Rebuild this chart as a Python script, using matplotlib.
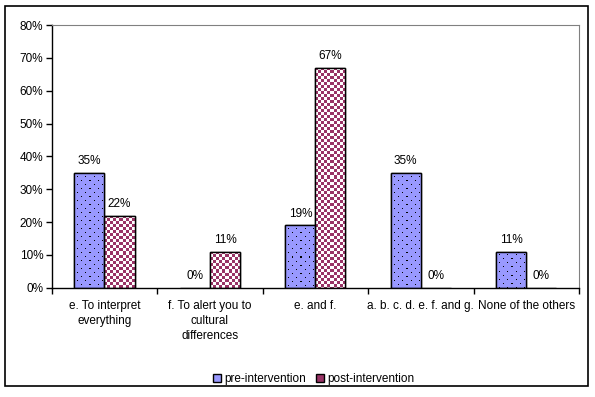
import numpy as np
import matplotlib
matplotlib.use('Agg')
import matplotlib.pyplot as plt
from matplotlib.patches import Rectangle, Patch

plt.rcParams['font.family'] = ['Liberation Sans', 'DejaVu Sans']

# datos
categorias = ["e. To interpret\neverything", "f. To alert you to\ncultural\ndifferences",
              "e. and f.", "a. b. c. d. e. f. and g.", "None of the others"]
pre = [35, 0, 19, 35, 11]
post = [22, 11, 67, 0, 0]
series = ["pre-intervention", "post-intervention"]

color_pre = '#9999FF'
color_post = '#993366'

fig = plt.figure(figsize=(5.95, 3.97), dpi=100)
ax = fig.add_axes([0.087, 0.275, 0.886, 0.662])

# marco exterior
fig.patches.append(Rectangle((0.009, 0.027), 0.98, 0.958, transform=fig.transFigure,
                             fill=False, edgecolor='black', linewidth=1.2))

x = np.arange(len(categorias))
w = 0.285
bars_pre = ax.bar(x - w / 2, pre, w, color='white', edgecolor='black', linewidth=1, zorder=2)
bars_post = ax.bar(x + w / 2, post, w, color='white', edgecolor='black', linewidth=1, zorder=2)

ax.set_xlim(-0.5, len(categorias) - 0.5)
ax.set_ylim(0, 80)
fig.canvas.draw()


def rellenar(b, patron):
    # dibuja un patron pixel a pixel dentro de la barra
    h = b.get_height()
    if h <= 0:
        return
    x0, x1 = b.get_x(), b.get_x() + b.get_width()
    (px0, py0), (px1, py1) = ax.transData.transform([(x0, 0), (x1, h)])
    nx = max(1, int(round(px1 - px0)))
    ny = max(1, int(round(py1 - py0)))
    jj, ii = np.meshgrid(np.arange(nx), np.arange(ny))
    img = patron(ii, jj)
    im = ax.imshow(img, extent=(x0, x1, 0, h), origin='upper', aspect='auto',
                   interpolation='none', zorder=2.5)
    im.set_clip_path(b)
    ax.add_patch(Rectangle((x0, 0), b.get_width(), h, fill=False, edgecolor='black',
                           linewidth=1, zorder=3))


def tablero(ii, jj):
    g = ((ii // 3 + jj // 3) % 2) == 0
    img = np.ones(ii.shape + (3,))
    img[g] = matplotlib.colors.to_rgb(color_post)
    return img


def puntos(ii, jj):
    d = ((ii % 8 == 3) & (jj % 8 == 3)) | ((ii % 8 == 7) & (jj % 8 == 7))
    img = np.ones(ii.shape + (3,)) * np.array(matplotlib.colors.to_rgb(color_pre))
    img[d] = (0, 0, 0)
    return img


for b in bars_pre:
    rellenar(b, puntos)
for b in bars_post:
    rellenar(b, tablero)

ax.set_xlim(-0.5, len(categorias) - 0.5)
ax.set_ylim(0, 80)

for b, v in zip(list(bars_pre) + list(bars_post), pre + post):
    ax.annotate(f"{v}%", (b.get_x() + b.get_width() / 2, v), xytext=(0, 4),
                textcoords='offset points', ha='center', va='bottom', fontsize=8.5)

ax.set_yticks(np.arange(0, 81, 10))
ax.set_yticklabels([f"{t}%" for t in range(0, 81, 10)], fontsize=8.5)
ax.set_xticks(x)
ax.set_xticklabels(categorias, fontsize=8.5, va='top', linespacing=1.3)
ax.set_xticks(np.arange(-0.5, len(categorias)), minor=True)
ax.tick_params(axis='x', which='major', length=0, pad=9)
ax.tick_params(axis='x', which='minor', length=4, direction='out', width=1)
ax.tick_params(axis='y', length=4, direction='out', width=1, pad=2)

for s in ['top', 'right']:
    ax.spines[s].set_color('#808080')
for s in ['left', 'bottom']:
    ax.spines[s].set_color('black')
    ax.spines[s].set_linewidth(1)

handles = [Patch(facecolor=color_pre, edgecolor='black'),
           Patch(facecolor=color_post, edgecolor='black')]
fig.legend(handles, series, loc='center', bbox_to_anchor=(0.527, 0.045), ncol=2,
           frameon=False, fontsize=8.5, handlelength=0.7, handleheight=0.7,
           handletextpad=0.3, columnspacing=0.8)

fig.savefig('out.png', dpi=100)
